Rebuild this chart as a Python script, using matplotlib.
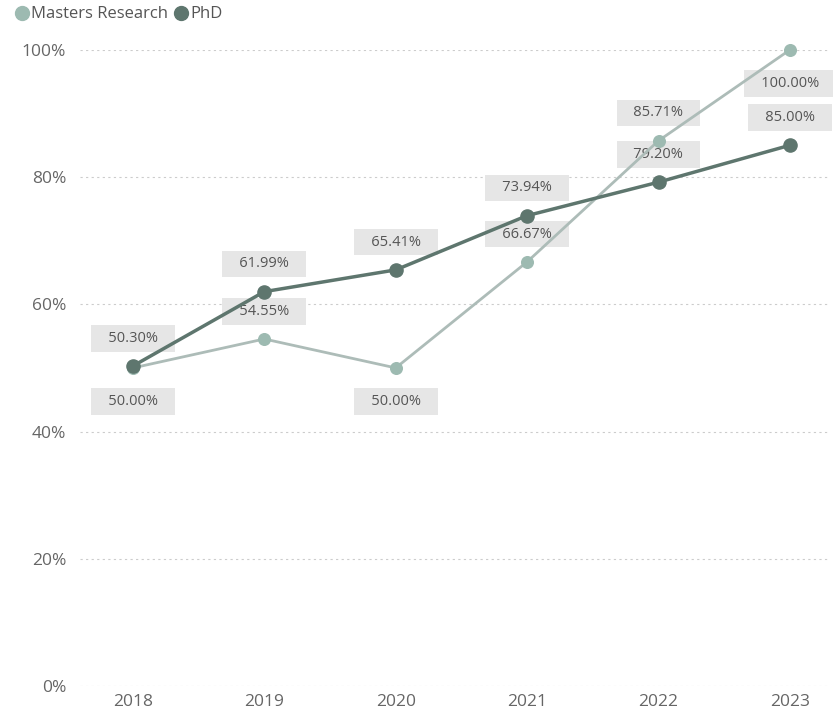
import matplotlib.pyplot as plt
from matplotlib.lines import Line2D

plt.rcParams['font.family'] = ['Open Sans', 'DejaVu Sans']

years = [2018, 2019, 2020, 2021, 2022, 2023]
masters = [50.00, 54.55, 50.00, 66.67, 85.71, 100.00]
phd = [50.30, 61.99, 65.41, 73.94, 79.20, 85.00]
# label placement: +1 above the point, -1 below
masters_side = [-1, 1, -1, 1, 1, -1]
phd_side = [1, 1, 1, 1, 1, 1]

masters_line = '#adbcb8'
masters_dot = '#9dbab1'
phd_color = '#5e766e'

fig = plt.figure(figsize=(8.33, 7.12), dpi=100)
ax = fig.add_axes([0.096, 0.0365, 0.898, 0.8935])

ax.plot(years, [v / 100 for v in masters], color=masters_line, lw=2, zorder=4)
ax.scatter(years, [v / 100 for v in masters], s=70, color=masters_dot, zorder=5, clip_on=False)
ax.plot(years, [v / 100 for v in phd], color=phd_color, lw=2.5, zorder=6)
ax.scatter(years, [v / 100 for v in phd], s=90, color=phd_color, zorder=7, clip_on=False)

box = dict(boxstyle='square,pad=0.4', fc='#e6e6e6', ec='none')


def label(x, v, side):
    # labels sit under the lines, on top of the grid
    ax.annotate(f'   {v:.2f}%   ', (x, v / 100), xytext=(0, 20 if side > 0 else -24),
                textcoords='offset points', ha='center', va='center',
                fontsize=10.5, color='#555555', bbox=box, zorder=3)


for x, v, side in zip(years, masters, masters_side):
    label(x, v, side)
for x, v, side in zip(years, phd, phd_side):
    label(x, v, side)

ax.set_xlim(2017.597, 2023.29)
ax.set_ylim(0, 1)
ax.set_xticks(years)
ax.set_yticks([0, 0.2, 0.4, 0.6, 0.8, 1.0])
ax.set_yticklabels(['0%', '20%', '40%', '60%', '80%', '100%'])
ax.tick_params(length=0, labelsize=12.5, colors='#666666', pad=10)
ax.tick_params(axis='x', pad=6)
ax.grid(axis='y', color='#cccccc', linestyle=(0, (2, 3)), lw=0.8)
ax.set_axisbelow(True)
for s in ax.spines.values():
    s.set_visible(False)

handles = [Line2D([], [], marker='o', ls='none', color=masters_dot, markersize=10),
           Line2D([], [], marker='o', ls='none', color=phd_color, markersize=10)]
fig.legend(handles, ['Masters Research', 'PhD'], loc='upper left',
           bbox_to_anchor=(-0.002, 1.012), ncol=2, frameon=False, fontsize=12,
           handletextpad=0.05, columnspacing=0.3, handlelength=1.0,
           labelcolor='#555555')

fig.savefig('out.png', dpi=100)
